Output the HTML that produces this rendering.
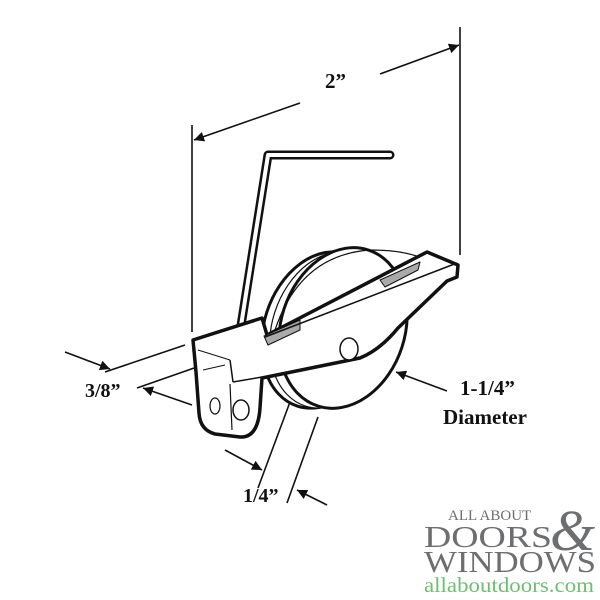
<!DOCTYPE html>
<html><head><style>
body{margin:0;background:#fff}
svg{display:block}
.t{font-family:"Liberation Serif",serif;font-weight:bold;fill:#111}
</style></head><body>
<svg width="600" height="600" viewBox="0 0 600 600" xmlns="http://www.w3.org/2000/svg">
<defs>
<marker id="ah" viewBox="0 0 10 10" refX="10" refY="5" markerWidth="14" markerHeight="10" markerUnits="userSpaceOnUse" orient="auto"><path d="M0,0 L10,5 L0,10 Z" fill="#111"/></marker>
</defs>
<g stroke="#111" stroke-width="1.6" fill="none">
<line x1="192" y1="125" x2="192" y2="332"/>
<line x1="460" y1="27" x2="460" y2="255"/>
<line x1="300" y1="103" x2="194" y2="140" marker-end="url(#ah)"/>
<line x1="380" y1="74" x2="459" y2="45" marker-end="url(#ah)"/>
<line x1="65" y1="352" x2="110" y2="369" marker-end="url(#ah)"/>
<line x1="105" y1="372" x2="185" y2="345"/>
<line x1="137" y1="388" x2="217" y2="360"/>
<line x1="192" y1="405" x2="143" y2="388" marker-end="url(#ah)"/>
<line x1="290" y1="402" x2="258" y2="488"/>
<line x1="318" y1="417" x2="287" y2="503"/>
<line x1="225" y1="450" x2="262" y2="470" marker-end="url(#ah)"/>
<line x1="327" y1="505" x2="297" y2="490" marker-end="url(#ah)"/>
<line x1="447" y1="391" x2="396" y2="372" marker-end="url(#ah)"/>
</g>
<!-- wheel -->
<g stroke="#111" fill="#fff">
<ellipse cx="322" cy="330" rx="58" ry="80" transform="rotate(18 322 330)" stroke-width="3"/>
<ellipse cx="330" cy="330" rx="58" ry="80" transform="rotate(18 330 330)" stroke-width="1.2"/>
<ellipse cx="343" cy="328" rx="62" ry="82" transform="rotate(18 343 328)" stroke-width="3"/>
<path d="M275,330 Q300,255 370,250 Q410,250 430,262" fill="none" stroke-width="1.2"/>
</g>
<!-- wire -->
<path d="M240,332 L268,155 L390,155" fill="none" stroke="#111" stroke-width="9" stroke-linecap="round" stroke-linejoin="round"/>
<path d="M240,332 L268,155 L390,155" fill="none" stroke="#fff" stroke-width="4" stroke-linecap="round" stroke-linejoin="round"/>
<!-- bracket -->
<g stroke="#111" stroke-linejoin="round">
<path d="M193,340 L262,318 L267,335 L427,252 L458,265 L457,277 L447,281 L398,328 Q380,350 360,358 L262,378 L260,408 Q258,438 240,437 L215,434 Q200,430 199,413 L196,372 Z" fill="#fff" stroke-width="3.5"/>
<path d="M264,336 L300,320 L300,330 L268,345 Z" fill="#aaa" stroke-width="1"/>
<path d="M380,280 L420,262 L418,270 L385,287 Z" fill="#aaa" stroke-width="1"/>
<line x1="265" y1="337" x2="457" y2="263" stroke-width="1.5"/>
<line x1="230" y1="360" x2="233" y2="382" stroke-width="1.5"/>
<path d="M233,382 L262,377" stroke-width="1.5" fill="none"/>
<path d="M198,350 L230,360 M203,370 L225,365" stroke-width="1" fill="none"/>
<ellipse cx="349" cy="349" rx="9" ry="11" fill="#fff" stroke-width="1.5"/>
<ellipse cx="241" cy="410" rx="8" ry="10" fill="#fff" stroke-width="1.5"/>
<ellipse cx="215" cy="406" rx="5" ry="8" fill="#fff" stroke-width="1.2"/>
<line x1="230" y1="384" x2="232" y2="430" stroke-width="1.2"/>
</g>
<text class="t" x="325" y="88" font-size="21">2”</text>
<text class="t" x="85" y="397" font-size="20">3/8”</text>
<text class="t" x="243" y="502" font-size="20">1/4”</text>
<text class="t" x="460" y="395" font-size="21">1-1/4”</text>
<text class="t" x="443" y="424" font-size="21">Diameter</text>
<g font-family="Liberation Serif,serif" fill="#6d6e70">
<text x="448" y="520" font-size="15">ALL ABOUT</text>
<text x="424" y="547" font-size="31" textLength="128" lengthAdjust="spacingAndGlyphs">DOORS</text>
<text x="424" y="572" font-size="31" textLength="172" lengthAdjust="spacingAndGlyphs">WINDOWS</text>
<text x="550" y="550" font-size="58" font-style="italic">&amp;</text>
</g>
<text x="424" y="592" font-family="Liberation Serif,serif" font-size="21" fill="#6cc070" textLength="170" lengthAdjust="spacingAndGlyphs">allaboutdoors.com</text>
</svg>
</body></html>
